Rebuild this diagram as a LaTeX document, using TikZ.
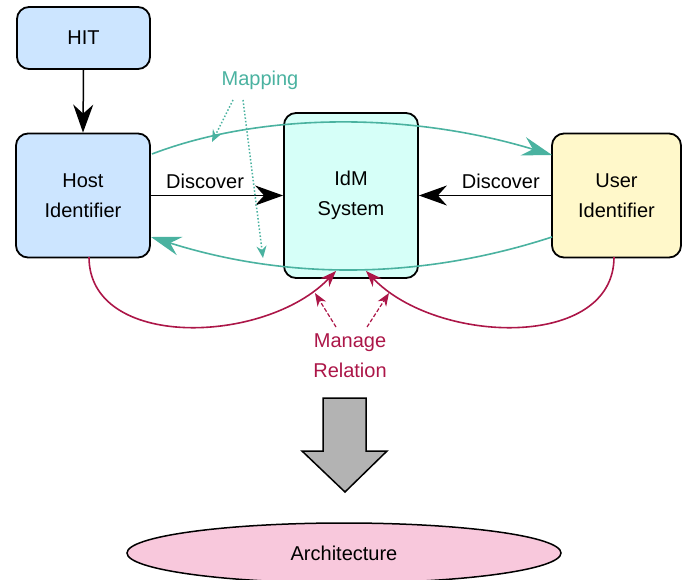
\documentclass[tikz,border=0pt]{standalone}
\usepackage{fontspec}
\setmainfont{Liberation Sans}
\usetikzlibrary{arrows.meta,shapes.geometric}
\definecolor{tealc}{RGB}{74,178,160}
\definecolor{redc}{RGB}{172,22,72}
\definecolor{bluef}{RGB}{204,229,255}
\definecolor{cyanf}{RGB}{214,255,248}
\definecolor{yelf}{RGB}{255,248,202}
\definecolor{pinkf}{RGB}{248,200,220}
\definecolor{grayf}{RGB}{179,179,179}
\tikzset{
  box/.style={draw=black, line width=1.8pt, rounded corners=12pt, align=center, inner sep=0pt},
  lbl/.style={align=center, inner sep=0pt},
  bighead/.style={-{Stealth[length=28pt,width=20pt,inset=9pt]}},
  conn/.style={line width=1.5pt, black, bighead},
  tealconn/.style={line width=1.6pt, tealc, -{Stealth[length=30pt,width=19pt,inset=10pt]}},
  redconn/.style={line width=1.6pt, redc, -{Stealth[length=16pt,width=12pt,inset=5pt]}},
  reddash/.style={line width=1.2pt, redc, dashed, dash pattern=on 4pt off 2pt, -{Stealth[length=13pt,width=10pt,inset=4pt]}},
  tealdot/.style={line width=1.5pt, tealc, dotted, -{Stealth[length=12pt,width=10pt,inset=4pt]}},
}
\begin{document}
\begin{tikzpicture}[x=1pt,y=-1pt, font=\fontsize{20}{30}\selectfont]
\useasboundingbox (0,0) rectangle (682,580);
% boxes
\node[box, fill=bluef, minimum width=133pt, minimum height=62pt] (hit) at (83.5,38) {HIT};
\node[box, fill=bluef, minimum width=134pt, minimum height=124pt] (host) at (83,195.5) {Host\\Identifier};
\node[box, fill=cyanf, minimum width=134pt, minimum height=165pt] (idm) at (351,195.5) {IdM\\System};
\node[box, fill=yelf, minimum width=129pt, minimum height=124pt] (user) at (616.5,195.5) {User\\Identifier};
\node[ellipse, draw=black, line width=1.5pt, fill=pinkf, minimum width=434pt, minimum height=60pt, inner sep=0pt] (arch) at (344,553) {Architecture};
% labels
\node[lbl, text=tealc] (map) at (260,80) {Mapping};
\node[lbl, text=redc] (mgr) at (350,356) {Manage\\Relation};
% coordinates
\coordinate (t1) at (152,154);
\coordinate (t2) at (552,155);
\coordinate (b1) at (552,237);
\coordinate (b2) at (151,237);
\coordinate (r1) at (89,257);
\coordinate (r1e) at (336,271);
\coordinate (r2) at (614,257);
\coordinate (r2e) at (366,271);
\coordinate (m1) at (233,100);
\coordinate (m1e) at (212,142);
\coordinate (m2) at (243,100);
\coordinate (m2e) at (263,258);
\coordinate (d1) at (336,327);
\coordinate (d1e) at (315,293);
\coordinate (d2) at (367,327);
\coordinate (d2e) at (389,293);
% connectors
\draw[conn] (hit.south) -- (host.north);
\draw[conn] (host.east) -- node[lbl, pos=0.41, above=6pt] (disc1) {Discover} (idm.west);
\draw[conn] (user.west) -- node[lbl, pos=0.38, above=6pt] (disc2) {Discover} (idm.east);
\draw[tealconn] (t1) .. controls (262,112) and (410,112) .. (t2);
\draw[tealconn] (b1) .. controls (420,280) and (287,280) .. (b2);
\draw[redconn] (r1) .. controls (89,350) and (265,345) .. (r1e);
\draw[redconn] (r2) .. controls (614,350) and (437,345) .. (r2e);
\draw[tealdot] (m1) -- (m1e);
\draw[tealdot] (m2) -- (m2e);
\draw[reddash] (d1) -- (d1e);
\draw[reddash] (d2) -- (d2e);
% big gray arrow
\draw[line width=1.5pt, fill=grayf, line join=miter] (323,398) -- (366,398) -- (366,451) -- (387,451) -- (345,492) -- (302,451) -- (323,451) -- cycle;
\end{tikzpicture}
\end{document}
